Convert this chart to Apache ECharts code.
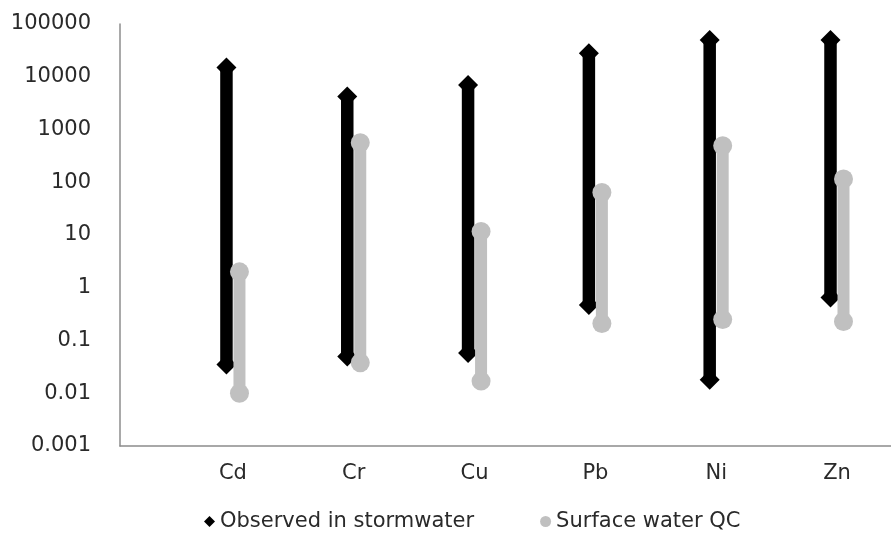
<!DOCTYPE html>
<html><head><meta charset="utf-8">
<script src="https://cdn.jsdelivr.net/npm/echarts@6/dist/echarts.min.js"></script>
<style>html,body{margin:0;padding:0;background:#fff}#c{width:891px;height:546px}</style>
</head><body><div id="c"></div>
<script>
const categories = ['Cd', 'Cr', 'Cu', 'Pb', 'Ni', 'Zn'];
const stormMin = [0.035, 0.05, 0.058, 0.47, 0.018, 0.65];
const stormMax = [15000, 4200, 7000, 28000, 50000, 50000];
const qcMin = [0.01, 0.038, 0.017, 0.21, 0.25, 0.23];
const qcMax = [2.0, 560, 11.7, 64, 490, 115];
const yTickLabels = ['0.001', '0.01', '0.1', '1', '10', '100', '1000', '10000', '100000'];
const seriesNames = ['Observed in stormwater', 'Surface water QC'];

const FONT = 'DejaVu Sans';
const TEXT_COLOR = '#2a2a2a';
const chart = echarts.init(document.getElementById('c'), null, {renderer: 'canvas'});

function rangeSeries(name, mins, maxs, color, marker, dx, lw, ms) {
  return {
    name: name,
    type: 'custom',
    itemStyle: {color: color},
    data: categories.map((c, i) => [i, mins[i], maxs[i]]),
    encode: {x: 0, y: [1, 2]},
    renderItem: function (params, api) {
      const x = api.value(0);
      const lo = api.coord([x, api.value(1)]);
      const hi = api.coord([x, api.value(2)]);
      const px = lo[0] + dx;
      const children = [{
        type: 'line',
        shape: {x1: px, y1: lo[1], x2: px, y2: hi[1]},
        style: {stroke: color, lineWidth: lw}
      }];
      [lo[1], hi[1]].forEach(function (py) {
        if (marker === 'diamond') {
          children.push({
            type: 'polygon',
            shape: {points: [[px, py - ms / 2], [px + ms / 2, py], [px, py + ms / 2], [px - ms / 2, py]]},
            style: {fill: color}
          });
        } else {
          children.push({
            type: 'circle',
            shape: {cx: px, cy: py, r: ms / 2},
            style: {fill: color}
          });
        }
      });
      return {type: 'group', children: children};
    }
  };
}

chart.setOption({
  animation: false,
  backgroundColor: '#ffffff',
  textStyle: {fontFamily: FONT},
  grid: {left: 120, right: 0, top: 24, bottom: 100},
  legend: {
    bottom: 9,
    left: 199,
    itemGap: 66,
    itemWidth: 11,
    itemHeight: 11,
    textStyle: {fontFamily: FONT, fontSize: 21, color: TEXT_COLOR},
    data: [
      {name: seriesNames[0], icon: 'diamond'},
      {name: seriesNames[1], icon: 'circle'}
    ]
  },
  xAxis: {
    type: 'value',
    min: -0.935,
    max: 5.447,
    splitLine: {show: false},
    axisTick: {show: false},
    axisLine: {show: true, onZero: false, lineStyle: {color: '#8c8c8c', width: 1.5}},
    axisLabel: {
      customValues: [0, 1, 2, 3, 4, 5],
      formatter: function (v) { return categories[Math.round(v)] || ''; },
      fontFamily: FONT, fontSize: 21, color: TEXT_COLOR, margin: 17
    }
  },
  yAxis: {
    type: 'log',
    logBase: 10,
    min: 0.001,
    max: 100000,
    splitLine: {show: false},
    axisTick: {show: false},
    axisLine: {show: true, onZero: false, lineStyle: {color: '#8c8c8c', width: 1.5}},
    axisLabel: {
      formatter: function (v) { return yTickLabels[Math.round(Math.log10(v)) + 3]; },
      fontFamily: FONT, fontSize: 21, color: TEXT_COLOR, margin: 29
    }
  },
  series: [
    rangeSeries(seriesNames[0], stormMin, stormMax, '#000000', 'diamond', -6.5, 12.5, 20),
    rangeSeries(seriesNames[1], qcMin, qcMax, '#c0c0c0', 'circle', 6.5, 12, 19)
  ]
});
</script>
</body></html>
